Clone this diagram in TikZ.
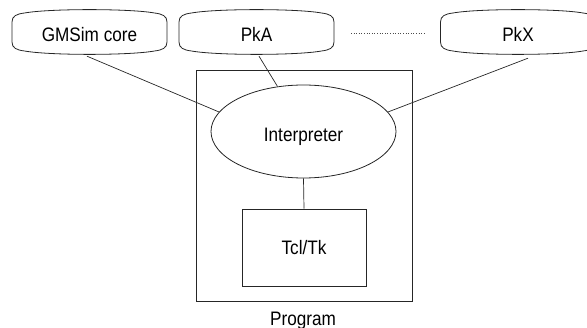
\documentclass[tikz,border=0pt]{standalone}
\usepackage{fontspec}
\setmainfont{Liberation Sans}[FakeStretch=0.88]
\usetikzlibrary{shapes.geometric,calc}

\tikzset{
  label text/.style={font=\fontsize{19.5}{22}\selectfont, inner sep=0pt,
                     text height=14pt, text depth=0pt},
  pkg/.style={label text, minimum width=155pt, minimum height=46pt},
  wire/.style={draw=black!85, line width=0.7pt},
  frame/.style={draw=black!85, line width=0.8pt},
}

% rounded package outline with bulging top and bottom edges
\newcommand{\pkgoutline}[1]{%
  \draw[frame, shift={(#1.center)}, yshift=2.5pt]
    (-77.5,-10) -- (-77.5,10)
    .. controls (-77.5,16) and (-73,18) .. (-65,19)
    .. controls (-40,23.5) and (40,23.5) .. (65,19)
    .. controls (73,18) and (77.5,16) .. (77.5,10)
    -- (77.5,-10)
    .. controls (77.5,-16) and (73,-18) .. (65,-19)
    .. controls (40,-23.5) and (-40,-23.5) .. (-65,-19)
    .. controls (-73,-18) and (-77.5,-16) .. (-77.5,-10) -- cycle;}

\begin{document}
\begin{tikzpicture}[x=1pt, y=-1pt]
  \useasboundingbox (0,0) rectangle (587,328);

  % packages along the top
  \node[pkg] (gm)  at (89.5,34.5)  {GMSim core};
  \node[pkg] (pka) at (256.5,34.5) {PkA};
  \node[pkg] (pkx) at (518,34.5)   {PkX};
  \pkgoutline{gm}
  \pkgoutline{pka}
  \pkgoutline{pkx}

  % ellipsis between the packages
  \coordinate (dotsL) at (351,33);
  \coordinate (dotsR) at (426,33);
  \draw[black!70, line width=0.6pt, dotted] (dotsL) -- (dotsR);

  % the program frame and its contents
  \node[frame, minimum width=216pt, minimum height=231pt, inner sep=0pt] (prog) at (304,185.5) {};
  \node[label text] (proglabel) at (303,319) {Program};
  \node[frame, ellipse, minimum width=185pt, minimum height=93pt, label text,
        text height=19.4pt] (interp) at (303.5,131.5) {Interpreter};
  \node[frame, rectangle, minimum width=124pt, minimum height=77pt, label text] (tcl) at (304,247.5) {Tcl/Tk};

  % connections
  \draw[wire] ($(gm.south)+(-2.5,-1.5)$) -- (interp.167);
  \draw[wire] ($(pka.south)+(2.5,-1.5)$) -- (interp.120);
  \draw[wire] ($(pkx.south)+(10,0.5)$) -- (interp.13);
  \draw[wire] (interp.south) -- (tcl.north);
\end{tikzpicture}
\end{document}
